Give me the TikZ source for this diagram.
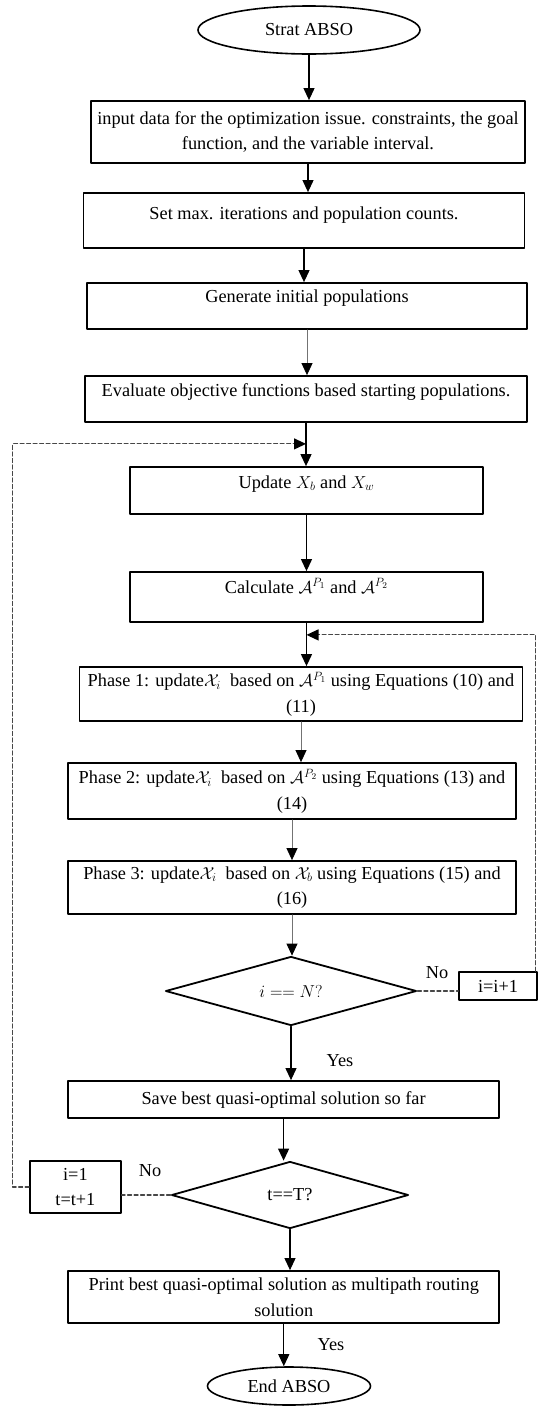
\documentclass[tikz,border=0pt]{standalone}
\usepackage{fontspec}
\setmainfont{Liberation Serif}
\usepackage{amsmath}
\usetikzlibrary{calc}
\usetikzlibrary{arrows.meta, shapes.geometric}

\begin{document}
\begin{tikzpicture}[x=1pt, y=-1pt, line cap=round, line join=round,
        every node/.style={font=\fontsize{18.3}{25.5}\selectfont},
        stepbox/.style={draw, line width=1.8pt, align=center, inner xsep=3pt, inner ysep=0pt},
        term/.style={draw, line width=1.6pt, ellipse, inner sep=0pt},
        test/.style={draw, line width=1.8pt, diamond, aspect=3.6, inner sep=0pt},
        flow/.style={-{Triangle[length=12pt, width=11pt]}, line width=1.1pt},
        thinflow/.style={-{Triangle[length=12pt, width=11pt, color=black]}, line width=0.8pt, draw=black!55},
        loopline/.style={line width=1.1pt, draw=black!72, dash pattern=on 4pt off 2.5pt},
        looparrow/.style={loopline, -{Triangle[length=12pt, width=11pt, color=black]}}]
            \useasboundingbox (0,0) rectangle (539,1406);

            % start
            \node[term, minimum width=222pt, minimum height=48pt] (start) at (309,30) {Strat ABSO};

            % set-up steps
            \node[stepbox, minimum width=434pt, minimum height=62pt] (input) at (308,132)
                {input data for the optimization issue. constraints, the goal\\function, and the variable interval.};
            \node[stepbox, minimum width=441pt, text height=26pt, text depth=29pt] (setmax) at (304,220.5)
                {Set max. iterations and population counts.};
            \node[stepbox, minimum width=440pt, text height=19pt, text depth=27pt] (gen) at (307,306)
                {Generate initial populations};
            \node[stepbox, minimum width=442pt, text height=20pt, text depth=26pt] (eval) at (306,399)
                {Evaluate objective functions based starting populations.};

            % main loop
            \node[stepbox, minimum width=353pt, text height=21pt, text depth=26pt] (upd) at (306.5,490.5)
                {Update $X_b$ and $X_w$};
            \node[stepbox, minimum width=353pt, text height=21pt, text depth=29pt] (calc) at (306.5,597)
                {Calculate $\mathcal{A}^{P_1}$ and $\mathcal{A}^{P_2}$};
            \node[stepbox, minimum width=443pt, minimum height=54pt] (ph1) at (301,694)
                {Phase 1: update$\mathcal{X}_i$~ based on $\mathcal{A}^{P_1}$ using Equations (10) and\\(11)};
            \node[stepbox, minimum width=448pt, minimum height=56pt] (ph2) at (292,791)
                {Phase 2: update$\mathcal{X}_i$~ based on $\mathcal{A}^{P_2}$ using Equations (13) and\\(14)};
            \node[stepbox, minimum width=448pt, minimum height=53pt] (ph3) at (292,887.5)
                {Phase 3: update$\mathcal{X}_i$~ based on $\mathcal{X}_b$ using Equations (15) and\\(16)};

            % inner test on i
            \node[test, minimum width=251pt, minimum height=69pt] (chkN) at (291,991) {$i == N?$};
            \node[stepbox, line width=1.5pt, minimum width=78pt, minimum height=28pt] (inc) at (498,986) {i=i+1};
            \node[stepbox, minimum width=431pt, minimum height=37pt] (save) at (283.6,1099.5)
                {Save best quasi-optimal solution so far};

            % outer test on t
            \node[test, minimum width=237pt, minimum height=67pt] (chkT) at (290,1195) {t==T?};
            \node[stepbox, line width=1.5pt, minimum width=91pt, minimum height=52pt] (reset) at (75.4,1187) {i=1\\t=t+1};
            \node[stepbox, minimum width=431pt, minimum height=52pt] (print) at (283.8,1297)
                {Print best quasi-optimal solution as multipath routing\\solution};

            % end
            \node[term, minimum width=163pt, minimum height=38pt] (finish) at (289,1386) {End ABSO};

            % branch labels
            \node (noN) at (437,973) {No};
            \node (yesN) at (340,1061) {Yes};
            \node (noT) at (150,1171) {No};
            \node (yesEnd) at (331,1345) {Yes};

            % main flow
            \foreach \a/\b in {start/input, input/setmax, setmax/gen, eval/upd, upd/calc, calc/ph1,
                    chkN/save, save/chkT, chkT/print, print/finish}
                \draw[flow] (\a.south) -- (\a.south |- \b.north);
            \foreach \a/\b in {gen/eval, ph1/ph2, ph2/ph3, ph3/chkN}
                \draw[thinflow] (\a.south) -- (\a.south |- \b.north);

            % where the loops come back in
            \coordinate (joinA) at ([yshift=-21pt]eval.south);
            \coordinate (joinB) at ([yshift=-12pt]calc.south);

            % loop on i
            \draw[loopline] (chkN.east) -- (chkN.east -| inc.west);
            \draw[looparrow] ([xshift=-2pt]inc.north east) |- (joinB);

            % loop on t
            \draw[loopline] (chkT.west) -- (chkT.west -| reset.east);
            \draw[looparrow] (reset.west) -- ++(-16.5,0) |- (joinA);
        \end{tikzpicture}
\end{document}
